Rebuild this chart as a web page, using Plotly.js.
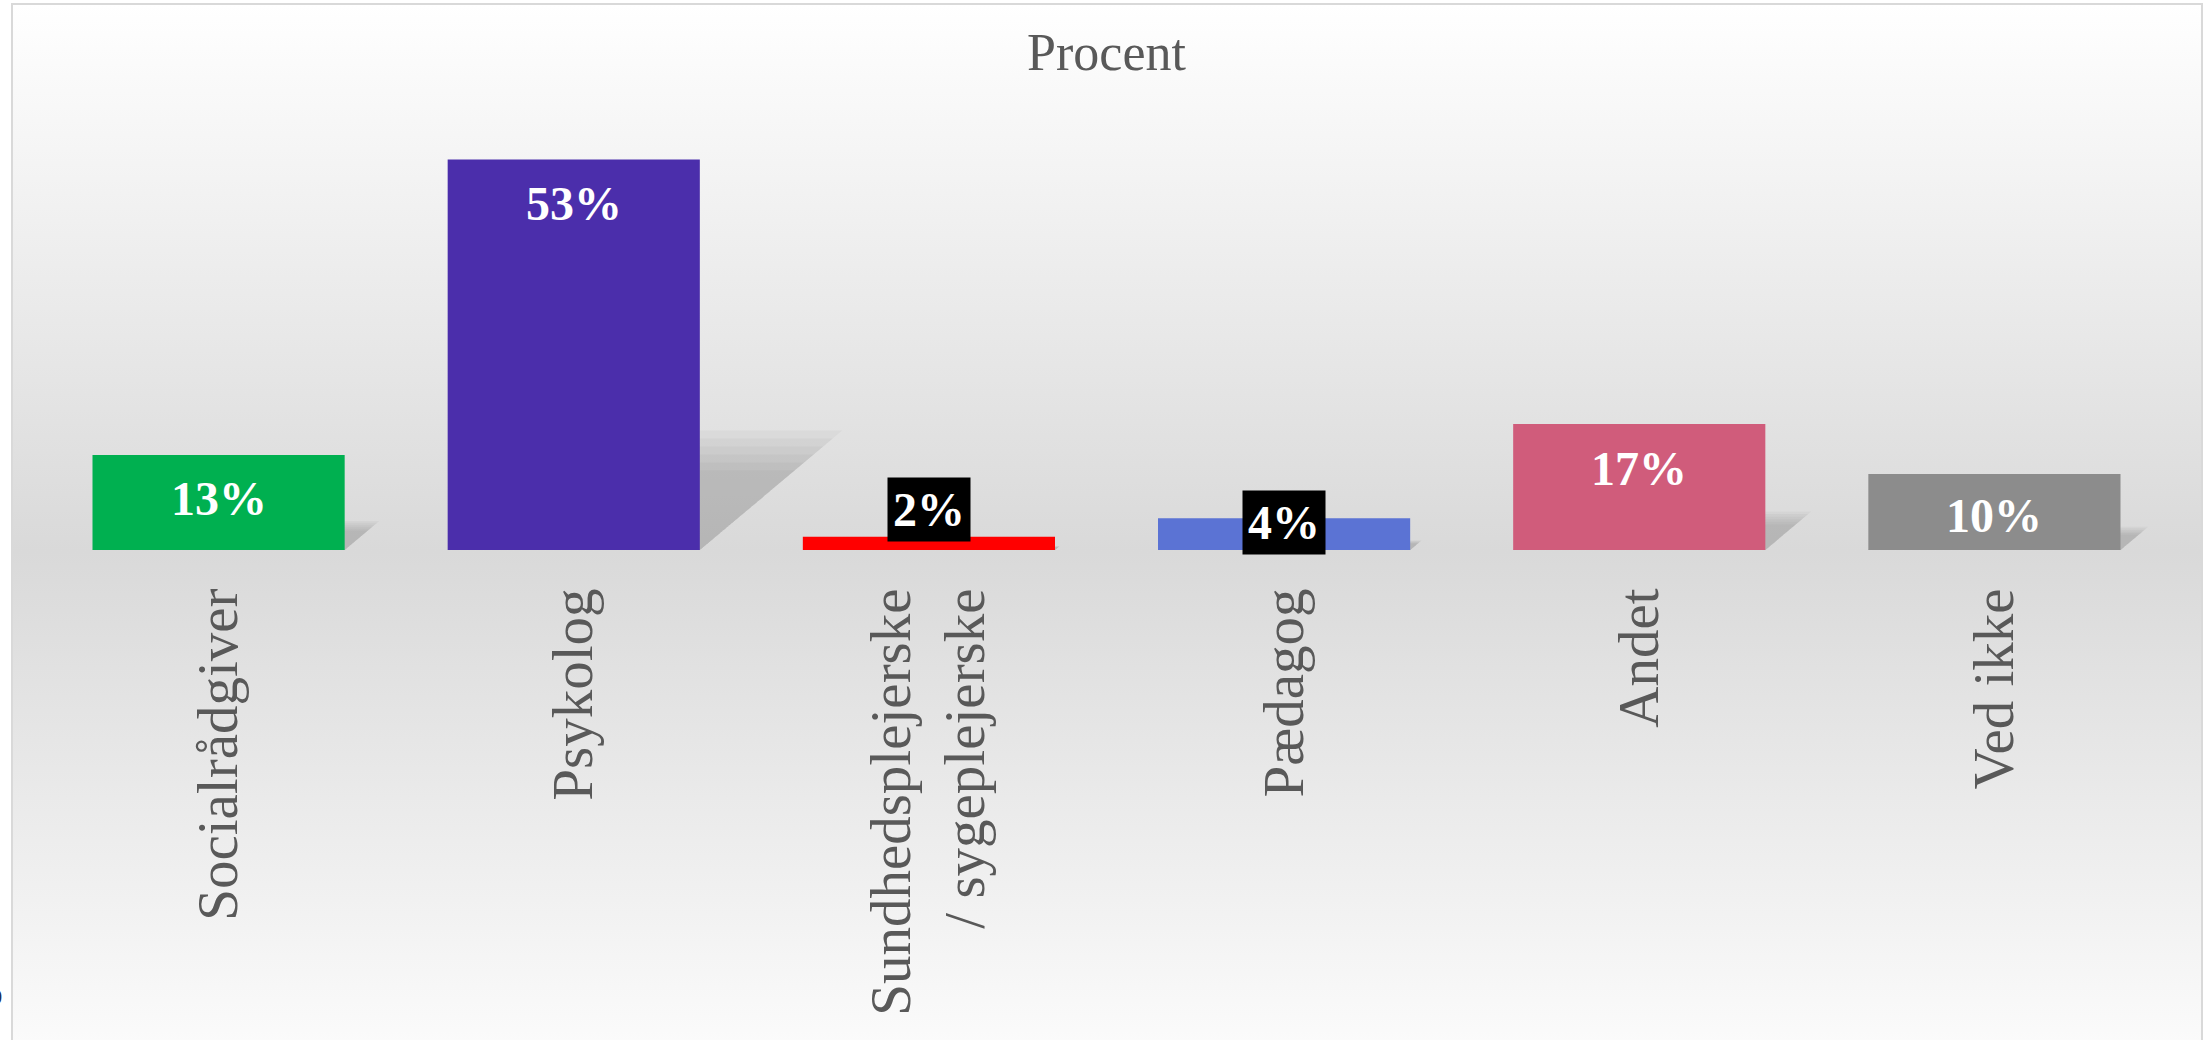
<!DOCTYPE html>
<html>
<head>
<meta charset="utf-8">
<script src="https://cdn.plot.ly/plotly-3.0.1.min.js"></script>
<style>
  html, body { margin: 0; padding: 0; background: #ffffff; }
  #wrap { position: relative; width: 2208px; height: 1040px; overflow: hidden; background: #ffffff; }
  #frame {
    position: absolute; left: 11px; top: 3px; width: 2192px; height: 1100px;
    box-sizing: border-box; border: 2px solid #d9d9d9;
    background: linear-gradient(to bottom, #ffffff 0px, #d9d9d9 547px, #ffffff 1097px);
  }
  #chart { position: absolute; left: 0; top: 0; width: 2208px; height: 1040px; }
</style>
</head>
<body>
<div id="wrap">
  <div id="frame"></div>
  <div id="chart"></div>
</div>
<script>
// ---- data ----
const categories = ["Socialrådgiver", "Psykolog", "Sundhedsplejerske<br>/ sygeplejerske", "Pædagog", "Andet", "Ved ikke"];
const values = [12.9, 53.0, 1.8, 4.3, 17.1, 10.3];
const labels = ["13%", "53%", "2%", "4%", "17%", "10%"];
const barColors = ["#00B050", "#4B2EAB", "#FF0000", "#5B73D4", "#D05C7B", "#8C8C8C"];

// ---- style constants ----
const serif = "'Liberation Serif', 'Times New Roman', serif";
const barGap = 0.29;
const barW = 1 - barGap;
const idx = categories.map((_, i) => i);
const labelBoxed = [false, false, true, true, false, false];
const labelShift = [-44, -44, 27, -4, -44, -41];

// soft perspective shadows (decoration), derived from values
const shapes = [];
const shear = 0.0063, lift = 0.255;
[0.8, 0.88, 0.96, 1.04, 1.12, 1.2].forEach((f) => {
  values.forEach((v, i) => {
    const x0 = i - barW / 2, x1 = i + barW / 2;
    const dx = shear * v * f, top = lift * v * f;
    shapes.push({
      type: "path", xref: "x", yref: "y", layer: "below",
      path: `M ${x0} 0 L ${x1} 0 L ${x1 + dx} ${top} L ${x0 + dx} ${top} Z`,
      fillcolor: "#7a7a7a", opacity: 0.065, line: { width: 0 }
    });
  });
});

const annotations = values.map((v, i) => ({
  x: i, y: v, xref: "x", yref: "y",
  text: "<b>" + labels[i] + "</b>",
  showarrow: false, xanchor: "center", yanchor: "middle",
  yshift: labelShift[i],
  font: { family: serif, size: 48, color: "#ffffff" },
  bgcolor: labelBoxed[i] ? "#000000" : "rgba(0,0,0,0)",
  borderpad: labelBoxed[i] ? 5 : 0
}));
annotations.push({
  xref: "paper", yref: "paper", x: 0, y: -1.011, xshift: -37,
  xanchor: "right", yanchor: "middle", showarrow: false,
  text: "<b>0</b>", font: { family: "'Liberation Sans', sans-serif", size: 20, color: "#1f2d5a" }
});

const trace = {
  type: "bar", x: idx, y: values,
  marker: { color: barColors, line: { width: 0 } },
  hoverinfo: "skip"
};

const layout = {
  width: 2208, height: 1040,
  margin: { l: 41, r: 36, t: 108, b: 490, pad: 0 },
  paper_bgcolor: "rgba(0,0,0,0)", plot_bgcolor: "rgba(0,0,0,0)",
  bargap: barGap,
  showlegend: false,
  title: {
    text: "Procent", x: 0.5, xref: "paper", xanchor: "center",
    y: 0.9505, yref: "container", yanchor: "middle",
    font: { family: serif, size: 52, color: "#595959" }
  },
  xaxis: {
    type: "linear", range: [-0.5, 5.5],
    tickvals: idx, ticktext: categories,
    tickangle: -90, ticks: "", ticklabelstandoff: 26,
    tickfont: { family: serif, size: 57, color: "#595959" },
    showgrid: false, zeroline: false, showline: false, fixedrange: true
  },
  yaxis: {
    range: [0, 60], visible: false, showgrid: false, zeroline: false, fixedrange: true
  },
  shapes: shapes,
  annotations: annotations,
  hovermode: false
};

Plotly.newPlot("chart", [trace], layout, { displayModeBar: false, staticPlot: true });
</script>
</body>
</html>
